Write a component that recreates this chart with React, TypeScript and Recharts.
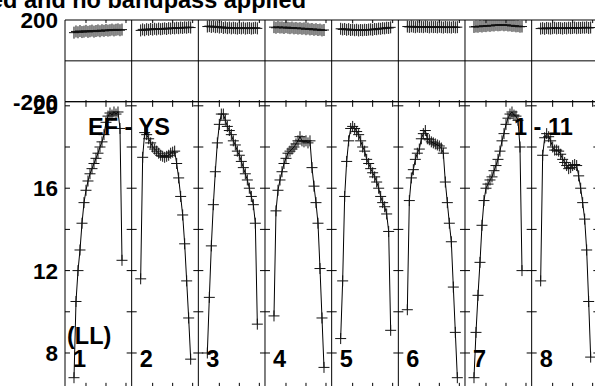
import { ComposedChart, Line, XAxis, YAxis, ReferenceLine } from "recharts";

// channels plotted in every panel
const CHANNELS = [4, 5, 6, 7, 8, 9, 10, 11, 12, 13, 14, 15, 16, 17, 18, 19, 20, 21, 22, 23, 24, 25, 26, 27, 28, 29];

// amplitude per panel (one panel per IF)
const AMP_1 = [6.8, 10.5, 12.0, 13.0, 14.3, 15.3, 15.9, 16.35, 16.7, 16.95, 17.2, 17.45, 17.7, 18.0, 18.25, 18.6, 19.2, 19.5, 19.65, 19.55, 19.7, 19.6, 19.7, 18.9, 12.5];
const AMP_2 = [11.6, 17.5, 18.7, 18.6, 18.4, 18.2, 18.0, 17.9, 17.8, 17.7, 17.6, 17.55, 17.5, 17.55, 17.6, 17.7, 17.75, 17.8, 17.2, 16.5, 15.6, 14.7, 13.3, 11.5, 9.7, 7.7];
const AMP_3 = [8.0, 10.7, 13.2, 15.2, 16.8, 18.2, 19.1, 19.6, 19.6, 19.3, 19.0, 18.8, 18.6, 18.3, 18.1, 17.8, 17.6, 17.3, 17.0, 16.7, 16.4, 16.0, 15.6, 15.2, 14.3, 9.4];
const AMP_4 = [9.8, 14.9, 15.9, 16.4, 16.8, 17.2, 17.45, 17.7, 17.8, 17.9, 18.0, 18.15, 18.3, 18.5, 18.3, 18.25, 18.3, 18.2, 18.3, 17.0, 16.1, 15.3, 14.3, 12.1, 9.7, 7.3];
const AMP_5 = [8.7, 11.5, 15.6, 17.3, 18.3, 18.9, 19.0, 18.9, 18.75, 18.6, 18.3, 18.0, 17.8, 17.4, 17.2, 16.95, 16.75, 16.55, 16.3, 16.0, 15.6, 15.3, 15.1, 14.75, 13.9, 9.1];
const AMP_6 = [10.1, 15.4, 16.5, 16.9, 17.4, 17.7, 17.9, 18.4, 18.65, 18.8, 18.4, 18.35, 18.25, 18.2, 18.15, 18.1, 18.05, 17.95, 17.7, 16.3, 15.3, 14.3, 13.4, 11.2, 9.0, 6.8];
const AMP_7 = [6.8, 9.0, 10.8, 12.4, 14.2, 15.4, 16.0, 16.2, 16.4, 16.55, 16.85, 17.1, 17.4, 17.8, 18.3, 18.65, 19.1, 19.4, 19.6, 19.7, 19.55, 19.5, 19.3, 18.0, 12.0];
const AMP_8 = [11.5, 17.6, 18.45, 18.65, 18.5, 18.3, 18.0, 17.85, 17.85, 17.8, 17.65, 17.4, 17.25, 17.1, 16.95, 17.0, 17.1, 17.15, 17.1, 16.6, 16.0, 15.3, 14.5, 13.0, 10.5, 7.8];

// phase per panel (degrees)
const PHASE_1 = [138, 144, 140, 146, 141, 143, 147, 142, 145, 148, 143, 146, 149, 145, 150, 147, 151, 148, 150, 153, 149, 152, 154, 150, 153];
const PHASE_2 = [149, 154, 150, 155, 152, 156, 153, 157, 154, 158, 155, 157, 159, 156, 160, 158, 161, 159, 162, 160, 163, 161, 164, 162, 165, 163];
const PHASE_3 = [168, 170, 166, 169, 165, 167, 163, 166, 161, 164, 160, 163, 159, 162, 160, 158, 161, 159, 162, 158, 160, 161, 158, 160, 162, 159];
const PHASE_4 = [165, 162, 166, 163, 164, 161, 165, 162, 160, 163, 159, 161, 158, 160, 157, 159, 155, 158, 154, 156, 152, 155, 151, 153, 149, 151];
const PHASE_5 = [157, 154, 156, 152, 155, 151, 153, 150, 152, 149, 151, 150, 152, 151, 153, 154, 152, 156, 155, 158, 157, 160, 159, 162, 161, 164];
const PHASE_6 = [168, 166, 169, 167, 165, 168, 166, 167, 165, 168, 166, 164, 167, 165, 166, 164, 167, 165, 163, 166, 164, 165, 163, 166, 164, 165];
const PHASE_7 = [166, 168, 167, 170, 168, 171, 170, 173, 171, 174, 173, 176, 174, 175, 177, 174, 176, 173, 174, 171, 172, 169, 170, 167, 168];
const PHASE_8 = [158, 160, 157, 161, 159, 158, 160, 162, 159, 161, 160, 158, 161, 159, 162, 160, 161, 163, 160, 162, 161, 163, 162, 164, 161, 163];

const PANEL_LABELS = ["1", "2", "3", "4", "5", "6", "7", "8"];
const AMP_TICKS = [8, 10, 12, 14, 16, 18, 20];
const AMP_LABELS = [8, 12, 16, 20];
const PHASE_LABELS = [-200, 200];
const CHAN_TICKS = [10, 20, 30];

const AMPS = [AMP_1, AMP_2, AMP_3, AMP_4, AMP_5, AMP_6, AMP_7, AMP_8];
const PHASES = [PHASE_1, PHASE_2, PHASE_3, PHASE_4, PHASE_5, PHASE_6, PHASE_7, PHASE_8];

const SPAN = 100 / 3; // channels per panel width
const X_MIN = -0.5;
const X_MAX = 8 * SPAN - 0.5;
const AMP_MIN = 6.3;
const AMP_MAX = 20.2;
const LEFT = 65;
const PANEL_PX = 533.33 / 8;
const FONT = "'Liberation Sans', Arial, Helvetica, sans-serif";

const rows: { x: number; amp: number | null; phase: number | null }[] = [];
AMPS.forEach((amp, p) => {
  amp.forEach((a, i) => rows.push({ x: p * SPAN + CHANNELS[i], amp: a, phase: PHASES[p][i] }));
  rows.push({ x: p * SPAN + 31, amp: null, phase: null });
});

const borders = PANEL_LABELS.map((_, k) => k * SPAN + X_MIN).concat([X_MAX]);
const chanTicks = PANEL_LABELS.flatMap((_, k) => CHAN_TICKS.map((c) => k * SPAN + c));

const cross = (arm: number, vArm: number) => (props: any) => {
  const { cx, cy, index, value } = props;
  if (cx == null || cy == null || value == null) return <g key={`d${index}`} />;
  return (
    <path
      key={`d${index}`}
      d={`M${cx - arm},${cy}H${cx + arm}M${cx},${cy - vArm}V${cy + vArm}`}
      stroke="#111"
      strokeWidth={1}
      fill="none"
    />
  );
};

const YTick = (props: any) => (
  <text
    x={LEFT - 7}
    y={props.y}
    dy="0.36em"
    textAnchor="end"
    fontSize={22.5}
    fontWeight={700}
    fontFamily={FONT}
    fill="#000"
  >
    {props.payload.value}
  </text>
);

const txt = { fontSize: 23.5, fontWeight: 700, fontFamily: FONT, fill: "#000" } as const;

export default function App() {
  return (
    <div
      style={{
        position: "fixed",
        left: 0,
        top: 0,
        width: 595,
        height: 386,
        overflow: "hidden",
        background: "#fff",
      }}
    >
      {/* phase panels */}
      <div style={{ position: "absolute", left: 0, top: 0 }}>
        <ComposedChart width={600} height={120} data={rows} margin={{ top: 20, right: 1.67, bottom: 18.3, left: 0 }}>
          <XAxis type="number" dataKey="x" domain={[X_MIN, X_MAX]} allowDataOverflow hide />
          <YAxis
            type="number"
            domain={[-200, 200]}
            ticks={PHASE_LABELS}
            interval={0}
            allowDataOverflow
            width={LEFT}
            axisLine={false}
            tickLine={false}
            tick={YTick}
          />
          <ReferenceLine y={200} stroke="#000" />
          <ReferenceLine y={0} stroke="#000" />
          <ReferenceLine y={-200} stroke="#000" />
          {borders.map((b) => (
            <ReferenceLine key={`pb${b}`} x={b} stroke="#000" />
          ))}
          {chanTicks.map((t) => (
            <ReferenceLine key={`pt${t}`} segment={[{ x: t, y: 200 }, { x: t, y: 185 }]} stroke="#000" />
          ))}
          {chanTicks.map((t) => (
            <ReferenceLine key={`pbt${t}`} segment={[{ x: t, y: -200 }, { x: t, y: -192 }]} stroke="#000" />
          ))}
          <Line
            dataKey="phase"
            stroke="#000"
            strokeWidth={1}
            dot={cross(5, 6)}
            isAnimationActive={false}
          />
        </ComposedChart>
      </div>

      {/* amplitude panels */}
      <div style={{ position: "absolute", left: 0, top: 0 }}>
        <ComposedChart width={600} height={400} data={rows} margin={{ top: 101.7, right: 1.67, bottom: 12, left: 0 }}>
          <XAxis type="number" dataKey="x" domain={[X_MIN, X_MAX]} allowDataOverflow hide />
          <YAxis
            type="number"
            domain={[AMP_MIN, AMP_MAX]}
            ticks={AMP_LABELS}
            interval={0}
            allowDataOverflow
            width={LEFT}
            axisLine={false}
            tickLine={false}
            tick={YTick}
          />
          <ReferenceLine y={AMP_MAX} stroke="#000" />
          <ReferenceLine y={AMP_MIN} stroke="#000" />
          {borders.map((b) => (
            <ReferenceLine key={`ab${b}`} x={b} stroke="#000" />
          ))}
          {borders.flatMap((b, k) =>
            AMP_TICKS.map((v) => (
              <ReferenceLine
                key={`ay${k}-${v}`}
                segment={[{ x: k === 0 ? b : b - 2.5, y: v }, { x: Math.min(b + 2.5, X_MAX), y: v }]}
                stroke="#000"
              />
            ))
          )}
          {chanTicks.map((t) => (
            <ReferenceLine key={`at${t}`} segment={[{ x: t, y: AMP_MAX }, { x: t, y: AMP_MAX - 0.25 }]} stroke="#000" />
          ))}
          {chanTicks.map((t) => (
            <ReferenceLine key={`abt${t}`} segment={[{ x: t, y: AMP_MIN }, { x: t, y: AMP_MIN + 0.25 }]} stroke="#000" />
          ))}
          <Line
            dataKey="amp"
            stroke="#000"
            strokeWidth={1}
            dot={cross(5.5, 5.5)}
            isAnimationActive={false}
          />
        </ComposedChart>
      </div>

      {/* labels */}
      <svg width={595} height={386} style={{ position: "absolute", left: 0, top: 0, pointerEvents: "none" }}>
        <text x={-10} y={7.5} {...txt}>ed and no bandpass applied</text>
        <text x={88} y={135} {...txt}>EF - YS</text>
        <text x={514} y={135} {...txt}>1 - 11</text>
        <text x={67} y={344} {...txt}>(LL)</text>
        {PANEL_LABELS.map((l, k) => (
          <text key={l} x={LEFT + k * PANEL_PX + 8} y={367} {...txt}>
            {l}
          </text>
        ))}
      </svg>
    </div>
  );
}
